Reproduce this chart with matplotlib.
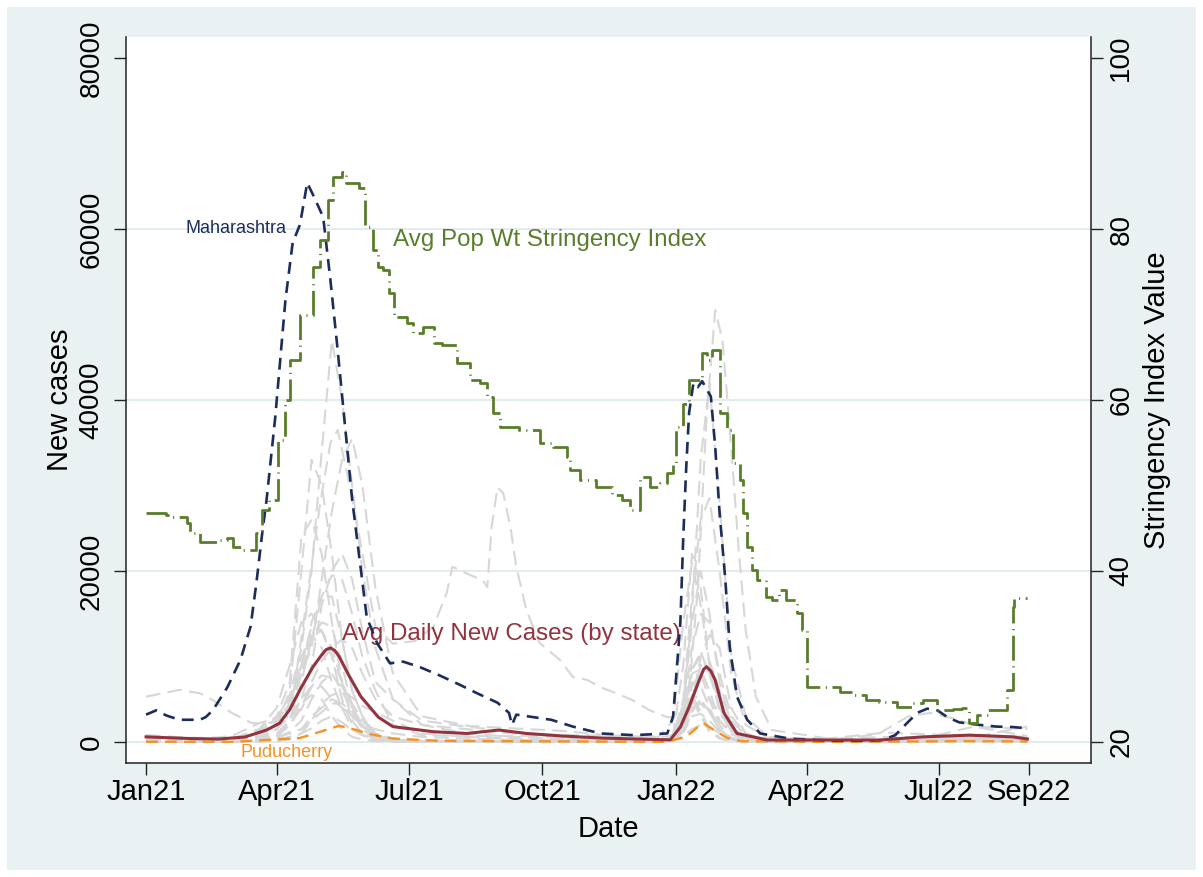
import pandas as pd
import matplotlib.pyplot as plt
from matplotlib.patches import Rectangle

plt.rcParams["font.family"] = ["Liberation Sans", "DejaVu Sans"]

# Maharashtra, daily new cases (7-day avg)
mh_dates = ["2021-01-01", "2021-01-08", "2021-01-15", "2021-01-24", "2021-02-07", "2021-02-11",
            "2021-02-16", "2021-02-26", "2021-03-07", "2021-03-14", "2021-03-18", "2021-03-22",
            "2021-03-25", "2021-03-31", "2021-04-07", "2021-04-12", "2021-04-17", "2021-04-22",
            "2021-04-26", "2021-05-03", "2021-05-08", "2021-05-13", "2021-05-19", "2021-05-23",
            "2021-06-02", "2021-06-09", "2021-06-18", "2021-06-27", "2021-07-08", "2021-07-22",
            "2021-08-05", "2021-08-17", "2021-08-31", "2021-09-08", "2021-09-10", "2021-09-13",
            "2021-09-25", "2021-10-07", "2021-10-22", "2021-11-10", "2021-12-03", "2021-12-26",
            "2021-12-30", "2022-01-04", "2022-01-06", "2022-01-08", "2022-01-10", "2022-01-13",
            "2022-01-16", "2022-01-19", "2022-01-25", "2022-01-28", "2022-01-31", "2022-02-04",
            "2022-02-07", "2022-02-12", "2022-02-19", "2022-02-28", "2022-03-20", "2022-04-20",
            "2022-05-12", "2022-05-23", "2022-06-01", "2022-06-09", "2022-06-16", "2022-06-23",
            "2022-06-30", "2022-07-07", "2022-07-15", "2022-07-29", "2022-08-10", "2022-08-21",
            "2022-08-31"]
mh_cases = [3200, 3700, 3100, 2600, 2600, 2900,
            3700, 6400, 9600, 13500, 18600, 24400,
            28300, 38000, 51700, 58400, 60500, 65400,
            64000, 61400, 54000, 45800, 35300, 28300,
            14600, 11600, 9200, 9400, 8800, 7800,
            6700, 5700, 4600, 3400, 2000, 3200,
            2900, 2600, 1800, 1000, 800, 1000,
            3000, 14000, 24000, 32000, 38500, 42000,
            41500, 42200, 40400, 34500, 26800, 18900,
            11100, 5300, 2600, 1000, 400, 150,
            150, 230, 800, 2200, 3400, 3900,
            3700, 2900, 2300, 2000, 1800, 1750,
            1600]

# Puducherry
py_dates = ["2021-01-01", "2021-03-01", "2021-03-25", "2021-04-17", "2021-05-01", "2021-05-14",
            "2021-05-26", "2021-06-02", "2021-06-20", "2021-07-20", "2021-09-01", "2021-12-25",
            "2022-01-08", "2022-01-16", "2022-01-20", "2022-01-27", "2022-02-05", "2022-02-15",
            "2022-04-15", "2022-07-15", "2022-08-31"]
py_cases = [30, 30, 230, 470, 1200, 1900,
            1400, 1000, 400, 150, 100, 20,
            600, 1750, 2200, 1400, 500, 100,
            10, 100, 60]

# Kerala (own dates, two extra waves)
kl_dates = ["2021-01-01", "2021-01-24", "2021-02-07", "2021-02-16", "2021-03-01", "2021-03-15",
            "2021-04-01", "2021-04-12", "2021-04-22", "2021-05-01", "2021-05-08", "2021-05-13",
            "2021-05-20", "2021-05-28", "2021-06-08", "2021-06-20", "2021-07-05", "2021-07-18",
            "2021-07-27", "2021-07-31", "2021-08-10", "2021-08-21", "2021-08-24", "2021-08-27",
            "2021-08-31", "2021-09-04", "2021-09-09", "2021-09-13", "2021-09-20", "2021-09-29",
            "2021-10-13", "2021-10-22", "2021-11-01", "2021-11-10", "2021-11-21", "2021-12-02",
            "2021-12-14", "2021-12-26", "2022-01-04", "2022-01-10", "2022-01-16", "2022-01-22",
            "2022-01-28", "2022-02-02", "2022-02-08", "2022-02-13", "2022-02-18", "2022-02-25",
            "2022-03-08", "2022-04-20", "2022-05-20", "2022-06-10", "2022-06-25", "2022-07-10",
            "2022-07-28", "2022-08-31"]
kl_cases = [5300, 6100, 5700, 4900, 3400, 2200,
            2300, 5000, 17000, 28000, 35000, 36500,
            31000, 24000, 13500, 11500, 11800, 13500,
            17400, 20500, 19700, 18900, 18100, 25100,
            29800, 29100, 25100, 20500, 15400, 11600,
            9600, 7600, 7250, 6400, 5700, 4900,
            3700, 2900, 3000, 6000, 18000, 38000,
            50500, 47000, 34500, 22800, 13100, 5300,
            1400, 300, 900, 3000, 3400, 2800,
            1800, 1500]

# other states, sampled on a shared set of dates
st_dates = ["2021-01-01", "2021-02-01", "2021-03-01", "2021-03-20", "2021-04-01", "2021-04-10",
            "2021-04-18", "2021-04-25", "2021-05-02", "2021-05-09", "2021-05-16", "2021-05-23",
            "2021-05-30", "2021-06-08", "2021-06-20", "2021-07-10", "2021-08-10", "2021-09-10",
            "2021-10-15", "2021-11-15", "2021-12-20", "2021-12-30", "2022-01-06", "2022-01-12",
            "2022-01-18", "2022-01-24", "2022-01-31", "2022-02-08", "2022-02-18", "2022-03-05",
            "2022-04-15", "2022-05-25", "2022-06-25", "2022-07-25", "2022-08-31"]
karnataka = [600, 450, 500, 1000, 2500, 5500, 11000, 20000, 34000, 47000, 40000, 30000, 20000, 11000, 5000,
             2000, 1500, 1000, 400, 300, 300, 500, 4500, 15000, 33000, 42000, 28000, 10000, 3000, 600,
             100, 100, 300, 800, 600]
tamil_nadu = [800, 500, 450, 900, 2500, 4500, 8000, 11000, 19000, 27000, 33000, 35500, 30000, 18000, 8000,
              3000, 1900, 1600, 1300, 800, 600, 700, 5000, 17000, 26000, 28500, 20000, 8000, 2000, 500,
              30, 50, 600, 1800, 700]
uttar_pradesh = [300, 150, 100, 300, 2000, 6000, 20000, 33000, 30000, 22000, 12000, 6000, 3000, 1000, 400,
                 100, 40, 20, 10, 10, 30, 300, 3500, 11000, 15000, 14000, 8000, 3000, 1000, 200,
                 50, 100, 300, 400, 300]
delhi = [500, 150, 200, 600, 3000, 7000, 24000, 26000, 22000, 14000, 7000, 2500, 1000, 300, 150,
         70, 40, 30, 30, 40, 150, 900, 9000, 22000, 18000, 9000, 3500, 1500, 700, 400,
         400, 1100, 900, 600, 1800]
west_bengal = [800, 250, 200, 700, 2000, 4000, 8000, 14000, 17000, 19500, 19000, 15000, 10000, 6000, 2000,
               800, 700, 700, 800, 750, 600, 2500, 14000, 21000, 16000, 9000, 4000, 1200, 400, 150,
               50, 50, 300, 600, 300]
andhra = [200, 100, 100, 300, 1000, 2500, 5000, 9000, 16000, 20000, 22000, 19000, 13000, 7000, 5000,
          2500, 1800, 1200, 600, 200, 150, 200, 1000, 4500, 10000, 12500, 11000, 4000, 1000, 200,
          20, 20, 50, 600, 200]
rajasthan = [500, 100, 100, 300, 800, 2500, 7000, 12000, 17000, 17000, 12000, 6000, 3000, 700, 200,
             50, 20, 10, 10, 20, 50, 300, 3000, 8500, 10000, 8000, 5000, 1500, 500, 100,
             20, 30, 200, 300, 100]
gujarat = [600, 300, 400, 1300, 2500, 4500, 9000, 13500, 13000, 11000, 7000, 4000, 2000, 600, 150,
           30, 20, 20, 20, 40, 70, 300, 4000, 14000, 20000, 15000, 7000, 2000, 500, 100,
           20, 50, 400, 900, 400]
chhattisgarh = [600, 250, 300, 1500, 4000, 9000, 14000, 15000, 13000, 10000, 7000, 4000, 2000, 900, 400,
                200, 100, 50, 30, 20, 30, 300, 2500, 5500, 5000, 3500, 1500, 500, 150, 50,
                10, 10, 30, 100, 50]
madhya_pradesh = [600, 200, 400, 1500, 3000, 5000, 10000, 12500, 11000, 7000, 4000, 1500, 800, 200, 50,
                  10, 10, 10, 10, 10, 20, 100, 1500, 5000, 9000, 9500, 6000, 2500, 800, 150,
                  10, 20, 40, 200, 100]
haryana = [300, 100, 150, 800, 2000, 3500, 8000, 12000, 14000, 13500, 9000, 4000, 1500, 400, 100,
           20, 10, 10, 10, 15, 30, 300, 3000, 8000, 8500, 6000, 2500, 900, 300, 200,
           300, 600, 500, 600, 500]
odisha = [200, 100, 80, 200, 700, 2000, 4000, 7000, 9500, 11000, 12000, 11000, 8000, 5000, 3000,
          2000, 1000, 600, 400, 250, 150, 300, 3000, 8500, 10500, 8000, 4000, 1500, 500, 100,
          10, 10, 60, 600, 300]
bihar = [500, 100, 100, 200, 1500, 4500, 9000, 12500, 13000, 10000, 5000, 2000, 800, 300, 100,
         30, 20, 10, 10, 10, 20, 500, 4000, 5500, 3500, 1500, 500, 100, 50, 20,
         10, 20, 100, 400, 150]
telangana = [300, 150, 150, 400, 1500, 3000, 5000, 6500, 6500, 5000, 4000, 3000, 2000, 1500, 1000,
             600, 400, 250, 200, 150, 200, 400, 2000, 4000, 4500, 3800, 2500, 1200, 500, 100,
             30, 40, 400, 700, 400]
punjab = [250, 250, 700, 2200, 2800, 3000, 3800, 6500, 7800, 7500, 6500, 4500, 2500, 800, 300,
          50, 50, 30, 30, 40, 50, 200, 3000, 7000, 6500, 4000, 1500, 300, 100, 30,
          20, 20, 50, 400, 100]
assam = [40, 20, 20, 30, 100, 300, 1000, 2500, 4500, 5500, 5800, 5200, 4200, 3500, 2500,
         1000, 600, 400, 250, 100, 60, 100, 2000, 6500, 8000, 5000, 2000, 300, 50, 20,
         5, 5, 300, 500, 200]
jharkhand = [100, 40, 50, 100, 600, 2000, 4500, 5500, 5000, 3000, 1500, 600, 300, 100, 50,
             30, 20, 20, 10, 15, 30, 500, 4000, 5000, 3000, 1200, 400, 100, 40, 10,
             10, 10, 40, 200, 100]
uttarakhand = [200, 100, 50, 150, 400, 1200, 2500, 5000, 7000, 8000, 6000, 3500, 1500, 500, 100,
               30, 20, 20, 10, 15, 30, 200, 2000, 4000, 4500, 3500, 1500, 400, 100, 20,
               10, 20, 100, 300, 100]
jammu_kashmir = [100, 60, 80, 150, 600, 1000, 1500, 3000, 4000, 5000, 4500, 3000, 1800, 800, 300,
                 150, 150, 100, 90, 150, 150, 200, 1000, 3500, 5000, 5000, 3500, 1300, 500, 60,
                 10, 10, 50, 300, 150]
himachal = [150, 50, 100, 300, 600, 1000, 1500, 2500, 3500, 4500, 4500, 3500, 2000, 600, 200,
            100, 150, 150, 150, 100, 60, 100, 700, 1500, 2000, 1800, 1000, 400, 200, 150,
            30, 10, 50, 300, 400]
goa = [80, 60, 60, 150, 300, 600, 1000, 1600, 2500, 3000, 2300, 1400, 800, 400, 200,
       100, 80, 70, 60, 30, 30, 200, 1200, 3000, 3300, 2500, 1200, 300, 100, 30,
       10, 10, 50, 200, 100]
other_states = [karnataka, tamil_nadu, uttar_pradesh, delhi, west_bengal, andhra, rajasthan,
                gujarat, chhattisgarh, madhya_pradesh, haryana, odisha, bihar, telangana,
                punjab, assam, jharkhand, uttarakhand, jammu_kashmir, himachal, goa]

# average daily new cases across states
avg_dates = ["2021-01-01", "2021-02-01", "2021-02-20", "2021-03-10", "2021-03-25", "2021-04-03",
             "2021-04-10", "2021-04-17", "2021-04-26", "2021-05-02", "2021-05-05", "2021-05-08",
             "2021-05-11", "2021-05-14", "2021-05-20", "2021-05-29", "2021-06-10", "2021-06-20",
             "2021-07-18", "2021-08-10", "2021-09-01", "2021-09-20", "2021-10-15", "2021-11-10",
             "2021-12-05", "2021-12-28", "2022-01-04", "2022-01-10", "2022-01-17", "2022-01-20",
             "2022-01-22", "2022-01-25", "2022-01-28", "2022-02-03", "2022-02-12", "2022-03-05",
             "2022-05-21", "2022-06-20", "2022-07-22", "2022-08-21", "2022-08-31"]
avg_cases = [600, 400, 350, 580, 1400, 2200,
             3800, 6100, 8800, 10200, 10800, 11000,
             10700, 10000, 8000, 5300, 2900, 1800,
             1200, 1000, 1400, 1000, 700, 470,
             350, 250, 1750, 4100, 7250, 8500,
             8800, 8300, 7250, 3400, 1000, 230,
             230, 600, 800, 600, 350]

# population weighted stringency index (right axis)
si_dates = ["2021-01-01", "2021-01-15", "2021-01-19", "2021-01-29", "2021-01-31", "2021-02-07", "2021-02-21", "2021-02-26", "2021-03-02", "2021-03-08",
            "2021-03-18", "2021-03-22", "2021-03-27", "2021-04-02", "2021-04-07", "2021-04-10", "2021-04-17", "2021-04-26", "2021-05-01", "2021-05-06",
            "2021-05-10", "2021-05-16", "2021-05-19", "2021-05-28", "2021-06-01", "2021-06-06", "2021-06-10", "2021-06-13", "2021-06-17", "2021-06-21",
            "2021-06-30", "2021-07-04", "2021-07-11", "2021-07-18", "2021-07-24", "2021-08-03", "2021-08-12", "2021-08-19", "2021-08-24", "2021-08-28",
            "2021-09-02", "2021-09-15", "2021-09-29", "2021-10-08", "2021-10-18", "2021-10-20", "2021-10-27", "2021-11-07", "2021-11-18", "2021-11-25",
            "2021-11-30", "2021-12-07", "2021-12-14", "2021-12-21", "2021-12-26", "2021-12-30", "2022-01-01", "2022-01-06", "2022-01-10", "2022-01-19",
            "2022-01-22", "2022-01-26", "2022-01-31", "2022-02-05", "2022-02-09", "2022-02-14", "2022-02-16", "2022-02-19", "2022-02-22", "2022-02-26",
            "2022-03-04", "2022-03-08", "2022-03-13", "2022-03-18", "2022-03-25", "2022-03-29", "2022-04-01", "2022-04-24", "2022-05-03", "2022-05-12",
            "2022-05-21", "2022-06-02", "2022-06-13", "2022-06-20", "2022-06-30", "2022-07-11", "2022-07-17", "2022-07-22", "2022-07-27", "2022-08-04",
            "2022-08-17", "2022-08-21", "2022-08-22", "2022-08-31"]
si_values = [46.8, 46.5, 46.3, 45.6, 44.4, 43.4, 43.6, 43.9, 42.8, 42.5,
             44.4, 47.1, 48.3, 55.3, 60.0, 64.7, 70.0, 75.6, 78.7, 83.4,
             86.1, 86.7, 85.4, 84.8, 80.2, 77.5, 75.6, 75.2, 72.5, 69.7,
             69.0, 67.8, 68.5, 66.7, 66.4, 64.3, 62.3, 62.0, 60.4, 58.5,
             56.8, 56.5, 55.0, 54.5, 53.3, 51.8, 50.6, 49.8, 48.9, 48.3,
             47.1, 51.0, 49.8, 50.3, 51.5, 52.6, 56.8, 59.5, 62.3, 65.5,
             64.7, 65.8, 58.5, 56.5, 52.6, 50.6, 46.8, 42.8, 40.1, 38.9,
             37.0, 36.6, 37.8, 36.6, 35.1, 33.1, 26.4, 25.8, 25.5, 24.9,
             24.7, 24.1, 24.6, 24.9, 23.7, 23.9, 24.0, 22.2, 23.2, 23.7,
             26.1, 35.8, 36.8, 36.8]

tick_dates = ["2021-01-01", "2021-04-01", "2021-07-01", "2021-10-01",
              "2022-01-01", "2022-04-01", "2022-07-01", "2022-09-01"]
tick_labels = ["Jan21", "Apr21", "Jul21", "Oct21", "Jan22", "Apr22", "Jul22", "Sep22"]

# colours
BG = "#eaf1f3"
GRID = "#dfe9ec"
GRAY = "#d7d7d7"
NAVY = "#1c2d5c"
GREEN = "#5a7d2c"
MAROON = "#923440"
ORANGE = "#f39324"
AXC = "#222222"

W, H = 1203, 877
fig = plt.figure(figsize=(W / 100, H / 100), dpi=100)
fig.patch.set_facecolor("white")
fig.add_artist(Rectangle((7 / W, 7 / H), 1 - 14 / W, 1 - 14 / H, transform=fig.transFigure,
                         facecolor=BG, edgecolor="none", zorder=-5))

ax = fig.add_axes([126 / W, 114 / H, 965 / W, 726 / H])
ax.set_facecolor("white")
ax2 = ax.twinx()

gray_ls = (0, (7, 3.5))
for vals in other_states:
    ax.plot(pd.to_datetime(st_dates), vals, color=GRAY, lw=1.5, ls=gray_ls, zorder=2)
ax.plot(pd.to_datetime(kl_dates), kl_cases, color=GRAY, lw=1.5, ls=gray_ls, zorder=2)

ax.plot(pd.to_datetime(py_dates), py_cases, color=ORANGE, lw=1.7, ls=(0, (5, 3)), zorder=3)
ax.plot(pd.to_datetime(mh_dates), mh_cases, color=NAVY, lw=1.9, ls=(0, (4.5, 2.8)), zorder=4)
ax.plot(pd.to_datetime(avg_dates), avg_cases, color=MAROON, lw=2.2, zorder=5)

ax2.plot(pd.to_datetime(si_dates), si_values, color=GREEN, lw=2.0,
         ls=(0, (9, 2, 0.4, 2)), drawstyle="steps-post")

# axes ranges
start = pd.Timestamp("2021-01-01")
ax.set_xlim(start - pd.Timedelta(days=13.8), start + pd.Timedelta(days=650.8))
ax.set_ylim(-2456, 82456)
ax2.set_ylim(17.54, 102.46)

ax.set_xticks(pd.to_datetime(tick_dates))
ax.set_xticklabels(tick_labels)
ax.set_yticks([0, 20000, 40000, 60000, 80000])
ax.set_yticklabels(["0", "20000", "40000", "60000", "80000"], rotation=90, va="center")
ax2.set_yticks([20, 40, 60, 80, 100])
ax2.set_yticklabels(["20", "40", "60", "80", "100"], rotation=90, va="center")

ax.tick_params(axis="x", labelsize=21, length=8.5, width=1, color=AXC, pad=2)
ax.tick_params(axis="y", labelsize=20, length=8.5, width=1, color=AXC, pad=7)
ax2.tick_params(axis="y", labelsize=20, length=8.5, width=1, color=AXC, pad=4)

ax.grid(axis="y", color=GRID, lw=1.3)
ax.grid(axis="x", visible=False)
for gl, v in zip(ax.get_ygridlines(), [0, 20000, 40000, 60000, 80000]):
    if v == 80000:
        gl.set_visible(False)
ax.set_axisbelow(True)

for s in ["top", "right"]:
    ax.spines[s].set_visible(False)
for s in ["top", "left", "bottom"]:
    ax2.spines[s].set_visible(False)
for sp in [ax.spines["left"], ax.spines["bottom"], ax2.spines["right"]]:
    sp.set_color(AXC)
    sp.set_linewidth(1.1)

ax.set_xlabel("Date", fontsize=21)
ax.xaxis.set_label_coords(0.5, -0.071)
ax.set_ylabel("New cases", fontsize=21)
ax.yaxis.set_label_coords(-0.054, 0.5)
ax2.set_ylabel("Stringency Index Value", fontsize=21, rotation=90)
ax2.yaxis.set_label_coords(1.054, 0.5)

# series labels
ax.text(pd.Timestamp("2021-01-28"), 60000, "Maharashtra", color=NAVY, fontsize=13,
        ha="left", va="center")
ax2.text(pd.Timestamp("2021-06-20"), 78.7, "Avg Pop Wt Stringency Index", color=GREEN,
         fontsize=17.4, ha="left", va="center")
ax.text(pd.Timestamp("2021-05-16"), 12600, "Avg Daily New Cases (by state)", color=MAROON,
        fontsize=17.4, ha="left", va="center")
ax.text(pd.Timestamp("2021-03-07"), -1170, "Puducherry", color=ORANGE, fontsize=13,
        ha="left", va="center")

fig.savefig("out.png", dpi=100)
